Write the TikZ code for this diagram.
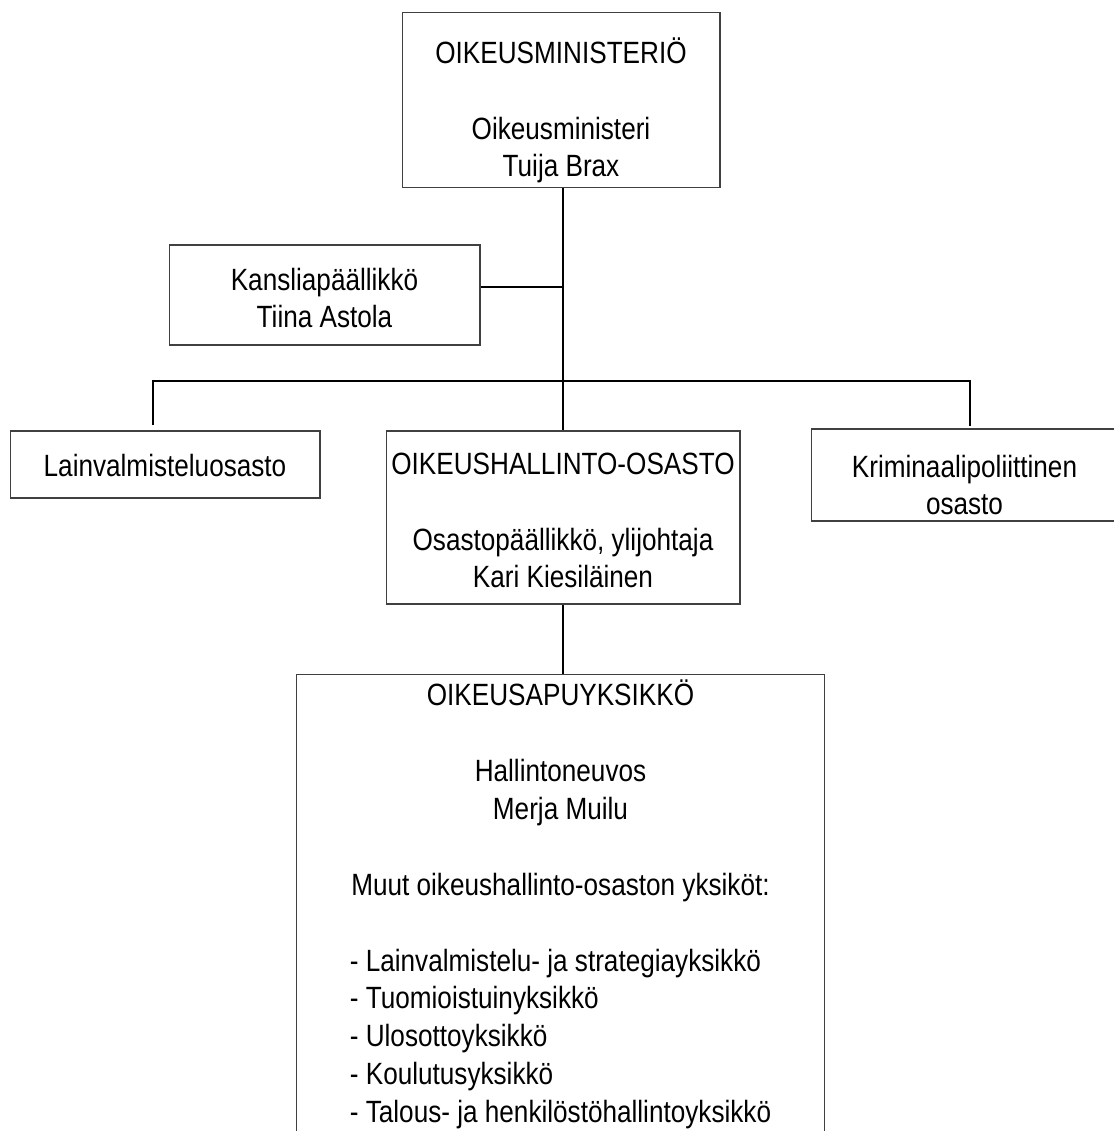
\documentclass[tikz,border=0pt]{standalone}
\usepackage{fontspec}
\setmainfont{Liberation Sans}[FakeStretch=0.85]
\usetikzlibrary{calc}
\tikzstyle{Laatikko}=[rectangle, draw=black!75, line width=0.6pt, align=center, inner sep=0pt, font=\fontsize{17.5}{21.6}\selectfont]
\tikzstyle{Viiva}=[line width=1.1pt]

\begin{document}
\begin{tikzpicture}[x=0.02cm, y=-0.02cm]
	\useasboundingbox (0,0) rectangle (1114,1131);
	\clip (0,0) rectangle (1114,1131);
	%Laatikot
	\node[Laatikko, minimum width=6.36cm, text height=3.29cm, text depth=0.21cm]	(ministerio)	at (561,100)	{OIKEUSMINISTERIÖ\\[21.6pt]Oikeusministeri\\Tuija Brax};
	\node[Laatikko, minimum width=6.22cm, text height=1.66cm, text depth=0.34cm]	(kanslia)	at (324.5,295)	{Kansliapäällikkö\\Tiina Astola};
	\node[Laatikko, minimum width=6.2cm, text height=0.92cm, text depth=0.42cm]	(lainvalmistelu)	at (165,464.5)	{Lainvalmisteluosasto};
	\node[Laatikko, minimum width=7.08cm, text height=3.14cm, text depth=0.32cm]	(oikeushallinto)	at (563,517.5)	{OIKEUSHALLINTO-OSASTO\\[21.6pt]Osastopäällikkö, ylijohtaja\\Kari Kiesiläinen};
	\node[Laatikko, minimum width=6.14cm, text height=1.72cm, text depth=0.12cm]	(kriminaali)	at (964.5,475)	{Kriminaalipoliittinen\\osasto};
	\node[Laatikko, minimum width=10.58cm, text height=5.94cm, text depth=3.58cm]	(oikeusapu)	at (560.5,912)	{OIKEUSAPUYKSIKKÖ\\[21.6pt]Hallintoneuvos\\Merja Muilu\\[21.6pt]Muut oikeushallinto-osaston yksiköt:\\[21.6pt]{\begin{tabular}[t]{@{}l@{}}- Lainvalmistelu- ja strategiayksikkö\\- Tuomioistuinyksikkö\\- Ulosottoyksikkö\\- Koulutusyksikkö\\- Talous- ja henkilöstöhallintoyksikkö\end{tabular}}};

	%Viivat
	\coordinate (haara) at (563,381);
	\draw[Viiva] (ministerio.south -| oikeushallinto.north) -- (oikeushallinto.north);
	\draw[Viiva] (kanslia.3) -- (kanslia.3 -| oikeushallinto.north);
	\draw[Viiva] ($(lainvalmistelu.north)+(-12,-5)$) |- (haara) -| ($(kriminaali.north)+(5.5,-2)$);
	\draw[Viiva] (oikeushallinto.south) -- (oikeushallinto.south |- oikeusapu.north);
\end{tikzpicture}
\end{document}
